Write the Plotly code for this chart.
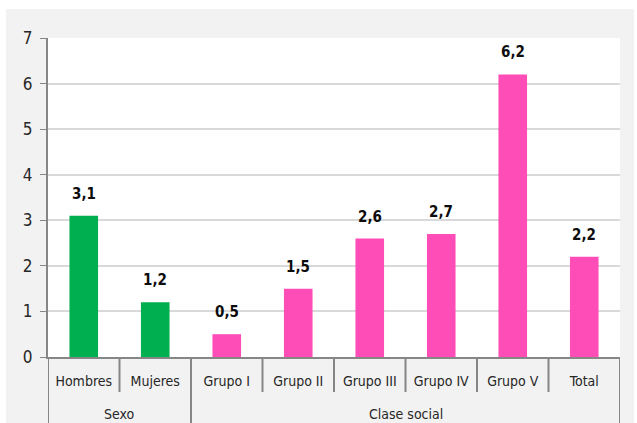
import plotly.graph_objects as go

group_names = ["Sexo", "Clase social"]
group_sizes = [2, 6]
categories = ["Hombres", "Mujeres", "Grupo I", "Grupo II", "Grupo III", "Grupo IV", "Grupo V", "Total"]
values = [3.1, 1.2, 0.5, 1.5, 2.6, 2.7, 6.2, 2.2]
group_colors = ["#00B050", "#FF4DB8"]
y_ticks = [0, 1, 2, 3, 4, 5, 6, 7]

FONT = "DejaVu Sans Condensed, Liberation Sans Narrow, sans-serif"
AXIS_GRAY = "#868686"

colors = []
for gc, n in zip(group_colors, group_sizes):
    colors += [gc] * n

fig = go.Figure()
fig.add_trace(go.Bar(
    x=categories,
    y=values,
    marker=dict(color=colors, line=dict(width=0)),
    width=0.4,
    hoverinfo="skip",
))

for c, v in zip(categories, values):
    fig.add_annotation(
        x=c, y=v, text="<b>" + f"{v:.1f}".replace(".", ",") + "</b>",
        showarrow=False, yanchor="bottom", yshift=11,
        font=dict(family=FONT, size=15, color="#0d0d0d"),
    )

# plot area height in px (for paper-coordinate conversions of decorations)
PLOT_H = 423 - 38 - 66

shapes = [
    dict(type="rect", xref="paper", yref="paper", x0=-0.0734, x1=1.0245, y0=-0.4, y1=1.091,
         fillcolor="#F2F2F2", line=dict(width=0), layer="below"),
    dict(type="rect", xref="paper", yref="paper", x0=0, x1=1, y0=0, y1=1,
         fillcolor="white", line=dict(width=0), layer="below"),
]

# category boundaries: short ticks inside groups, full-height dividers at group edges
start = 0
group_edges = {-0.5}
for n in group_sizes:
    start += n
    group_edges.add(start - 0.5)
for i in range(len(categories) + 1):
    b = i - 0.5
    full = b in group_edges
    shapes.append(dict(
        type="line", xref="x", yref="paper", x0=b, x1=b,
        y0=0, y1=(-80 if full else -35) / PLOT_H,
        line=dict(color=AXIS_GRAY, width=2), layer="above",
    ))

# group labels
start = 0
for name, n in zip(group_names, group_sizes):
    center = start + (n - 1) / 2
    fig.add_annotation(
        x=center, xref="x", y=-57 / PLOT_H, yref="paper", text=name,
        showarrow=False, yanchor="middle",
        font=dict(family=FONT, size=14, color="#262626"),
    )
    start += n

fig.update_layout(
    width=637, height=423,
    margin=dict(l=48, r=17, t=38, b=66, autoexpand=False),
    paper_bgcolor="white",
    plot_bgcolor="rgba(0,0,0,0)",
    showlegend=False,
    font=dict(family=FONT, size=14, color="#262626"),
    shapes=shapes,
    xaxis=dict(
        type="category",
        range=[-0.5, len(categories) - 0.5],
        showline=True, linecolor=AXIS_GRAY, linewidth=2,
        ticks="",
        tickfont=dict(family=FONT, size=14, color="#262626"),
        showgrid=False,
        ticklabelstandoff=10,
        automargin=False,
    ),
    yaxis=dict(
        range=[0, 7], tickvals=y_ticks, ticktext=[str(t) for t in y_ticks],
        showline=True, linecolor=AXIS_GRAY, linewidth=2,
        ticks="outside", ticklen=6, tickcolor=AXIS_GRAY, tickwidth=1,
        showgrid=True, gridcolor="#D9D9D9", gridwidth=2,
        tickfont=dict(family=FONT, size=17, color="#262626"),
        zeroline=False,
        ticklabelstandoff=4,
        automargin=False,
    ),
)

fig.write_html("out.html", post_script="document.body.style.margin='0';",
               config={"displayModeBar": False})
